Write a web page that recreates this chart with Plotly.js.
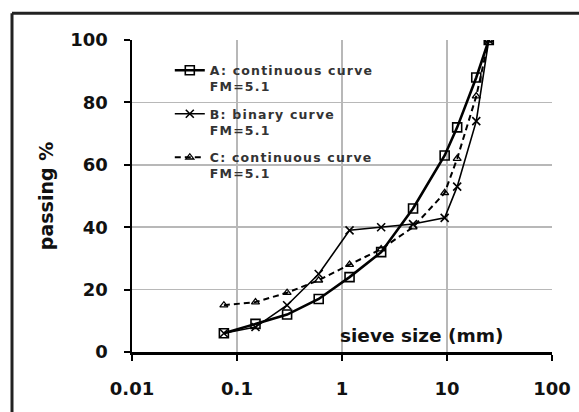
<!DOCTYPE html>
<html>
<head>
<meta charset="utf-8">
<script src="https://cdn.plot.ly/plotly-3.0.1.min.js"></script>
<style>
html,body{margin:0;padding:0;background:#fff;overflow:hidden;}
#chart{width:579px;height:412px;}
.legendtext{letter-spacing:1.2px;}
</style>
</head>
<body>
<div id="chart"></div>
<script>
// Data
const sieveSize = [0.075, 0.15, 0.3, 0.6, 1.18, 2.36, 4.75, 9.5, 12.5, 19, 25];
const passingA = [6, 9, 12, 17, 24, 32, 46, 63, 72, 88, 100];
const passingB = [6, 8, 15, 25, 39, 40, 41, 43, 53, 74, 100];
const passingC = [15, 16, 19, 23, 28, 33, 40, 51, 62, 82, 100];
const xTickVals = [0.01, 0.1, 1, 10, 100];
const xTickText = ['0.01', '0.1', '1', '10', '100'];
const nameA = 'A: continuous curve<br>FM=5.1';
const nameB = 'B: binary curve<br>FM=5.1';
const nameC = 'C: continuous curve<br>FM=5.1';

const traces = [
  {x: sieveSize, y: passingA, name: nameA, legendgroup: 'a', mode: 'lines+markers',
   line: {color: '#000', width: 2.6},
   marker: {symbol: 'square-open', size: 9, color: '#000', line: {width: 1.6, color: '#000'}}},
  {x: sieveSize, y: passingB, name: nameB, legendgroup: 'b', mode: 'lines+markers',
   line: {color: '#000', width: 1.6},
   marker: {symbol: 'x-thin-open', size: 8, color: '#000', line: {width: 1.6, color: '#000'}}},
  {x: sieveSize, y: passingC, name: nameC, legendgroup: 'c', mode: 'lines+markers',
   line: {color: '#000', width: 2, dash: '6px,4px'},
   marker: {symbol: 'triangle-up-open', size: 7, color: '#000', line: {width: 1.3, color: '#000'}}}
];

const tickFont = {family: 'DejaVu Sans', size: 18, color: '#111', weight: 'bold'};

const layout = {
  width: 579, height: 412,
  margin: {l: 132, r: 27, t: 40, b: 60},
  paper_bgcolor: '#fff', plot_bgcolor: '#fff',
  showlegend: true,
  legend: {x: 0.09, y: 0.95, xanchor: 'left', yanchor: 'top', bgcolor: 'rgba(0,0,0,0)',
           font: {family: 'DejaVu Sans', size: 12.5, color: '#333', weight: 'bold'}, valign: 'top',
           tracegroupgap: 8, borderwidth: 0},
  xaxis: {type: 'log', range: [-2, 2], tickvals: xTickVals, ticktext: xTickText,
          showgrid: true, gridcolor: '#b8b8b8', gridwidth: 1.5,
          showline: true, linecolor: '#000', linewidth: 2.5,
          ticks: 'outside', ticklen: 6, tickwidth: 2, tickcolor: '#000',
          ticklabelstandoff: 13, tickfont: tickFont, zeroline: false},
  yaxis: {range: [0, 100], dtick: 20, tick0: 0,
          showgrid: true, gridcolor: '#b8b8b8', gridwidth: 1.5,
          showline: true, linecolor: '#000', linewidth: 2.5,
          ticks: 'outside', ticklen: 6, tickwidth: 2, tickcolor: '#000',
          ticklabelstandoff: 12, tickfont: tickFont, zeroline: false,
          title: {text: 'passing %', standoff: 12,
                  font: {family: 'DejaVu Sans', size: 19, color: '#111', weight: 'bold'}}},
  annotations: [
    {xref: 'paper', yref: 'paper', x: 0.49, y: 0.054, xanchor: 'left', yanchor: 'middle',
     text: 'sieve size (mm)', showarrow: false,
     font: {family: 'DejaVu Sans', size: 18.5, color: '#111', weight: 'bold'}}
  ],
  shapes: [
    {type: 'line', xref: 'paper', yref: 'paper', x0: -0.2857, x1: -0.2857, y0: -0.5, y1: 1.0856,
     line: {color: '#222', width: 3}, layer: 'below'},
    {type: 'line', xref: 'paper', yref: 'paper', x0: -0.2857, x1: 1.5, y0: 1.0856, y1: 1.0856,
     line: {color: '#222', width: 3}, layer: 'below'}
  ]
};

Plotly.newPlot('chart', traces, layout, {displayModeBar: false, staticPlot: true});
</script>
</body>
</html>
